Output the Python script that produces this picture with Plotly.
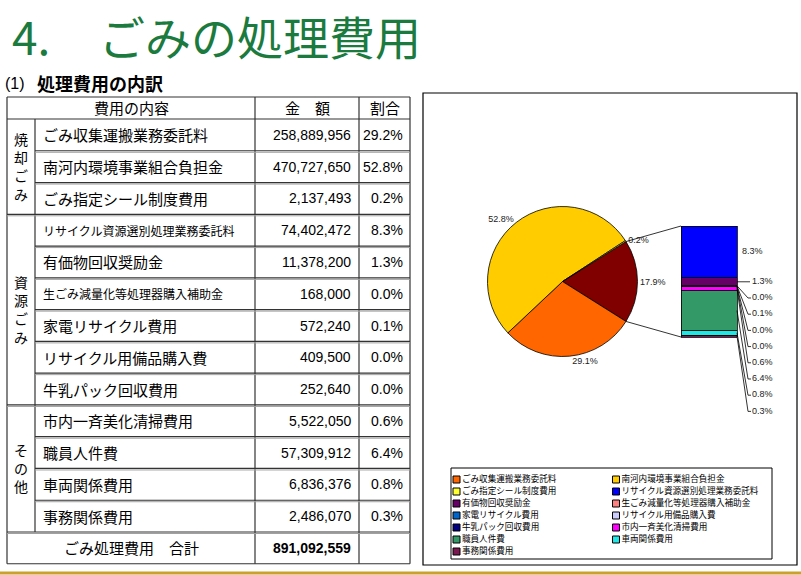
import math
import plotly.graph_objects as go

W, H = 801, 575

# ---------------- data ----------------
header_labels = ["費用の内容", "金　額", "割合"]
category_labels = ["焼却ごみ", "資源ごみ", "その他"]
item_names = [
    "ごみ収集運搬業務委託料", "南河内環境事業組合負担金", "ごみ指定シール制度費用",
    "リサイクル資源選別処理業務委託料", "有価物回収奨励金", "生ごみ減量化等処理器購入補助金",
    "家電リサイクル費用", "リサイクル用備品購入費", "牛乳パック回収費用",
    "市内一斉美化清掃費用", "職員人件費", "車両関係費用", "事務関係費用",
]
item_category = [0, 0, 0, 1, 1, 1, 1, 1, 1, 2, 2, 2, 2]
amounts = [258889956, 470727650, 2137493, 74402472, 11378200, 168000,
           572240, 409500, 252640, 5522050, 57309912, 6836376, 2486070]
table_ratios = ["29.2%", "52.8%", "0.2%", "8.3%", "1.3%", "0.0%", "0.1%",
                "0.0%", "0.0%", "0.6%", "6.4%", "0.8%", "0.3%"]
total_label = "ごみ処理費用　合計"
total_amount = 891092559
main_items = [0, 1, 2]
second_items = [3, 4, 5, 6, 7, 8, 9, 10, 11, 12]
other_label = "その他"

item_colors = ["#FF6600", "#FFCC00", "#FFFF33", "#0000FF", "#660066", "#FF8080",
               "#0066CC", "#CCCCFF", "#000080", "#FF00FF", "#339966", "#22E6E6", "#7A1A50"]
other_color = "#800000"
title_green = "#1B7A3E"

JP = "Noto Sans CJK JP"
LAT = "Liberation Sans"


def X(p):
    return p / W


def Y(p):
    return 1 - p / H


fig = go.Figure()
shapes = []
annotations = []

# ---------------- title ----------------
annotations.append(dict(text="4.", x=X(10), y=Y(35), xref="paper", yref="paper",
                        xanchor="left", yanchor="middle", showarrow=False,
                        font=dict(family=JP, size=46, color=title_green)))
annotations.append(dict(text="ごみの処理費用", x=X(97), y=Y(35), xref="paper", yref="paper",
                        xanchor="left", yanchor="middle", showarrow=False,
                        font=dict(family=JP, size=46, color=title_green)))
annotations.append(dict(text="(1)", x=X(3), y=Y(83), xref="paper", yref="paper",
                        xanchor="left", yanchor="middle", showarrow=False,
                        font=dict(family=LAT, size=16, color="black")))
annotations.append(dict(text="<b>処理費用の内訳</b>", x=X(35), y=Y(83), xref="paper", yref="paper",
                        xanchor="left", yanchor="middle", showarrow=False,
                        font=dict(family=JP, size=18, color="black")))

# ---------------- table ----------------
col_x = [7, 35, 255, 359, 410]
t_top, t_head = 97, 119
n = len(item_names)
row_h = (532 - t_head) / n
row_y = [t_head + i * row_h for i in range(n + 1)]
t_bottom = row_y[-1] + row_h
line_col = "#333333"


def hline(x0, x1, y, w=1.2, c=line_col):
    shapes.append(dict(type="line", xref="paper", yref="paper", x0=X(x0), x1=X(x1),
                       y0=Y(y), y1=Y(y), line=dict(color=c, width=w)))


def vline(x, y0, y1, w=1.2, c=line_col):
    shapes.append(dict(type="line", xref="paper", yref="paper", x0=X(x), x1=X(x),
                       y0=Y(y0), y1=Y(y1), line=dict(color=c, width=w)))


vline(col_x[0], t_top, t_bottom)
vline(col_x[4], t_top, t_bottom)
vline(col_x[2], t_top, t_bottom)
vline(col_x[3], t_top, t_bottom)
vline(col_x[1], t_head, row_y[-1])
hline(col_x[0], col_x[4], t_top)
hline(col_x[0], col_x[4], t_head)
hline(col_x[0], col_x[4], t_bottom)
for i in range(1, n + 1):
    full = (i == n) or (item_category[i] != item_category[i - 1])
    x0 = col_x[0] if full else col_x[1]
    hline(x0, col_x[4], row_y[i])
    hline(x0, col_x[4], row_y[i] + 1.5, w=1, c="#A0A0A0")

head_mid = (t_top + t_head) / 2
for lbl, xc in zip(header_labels, [(col_x[0] + col_x[2]) / 2, (col_x[2] + col_x[3]) / 2,
                                   (col_x[3] + col_x[4]) / 2]):
    annotations.append(dict(text=lbl, x=X(xc), y=Y(head_mid), xref="paper", yref="paper",
                            xanchor="center", yanchor="middle", showarrow=False,
                            font=dict(family=JP, size=15, color="black")))

for i, name in enumerate(item_names):
    yc = (row_y[i] + row_y[i + 1]) / 2
    fs = 12 if len(name) > 13 else 15
    annotations.append(dict(text=name, x=X(41), y=Y(yc), xref="paper", yref="paper",
                            xanchor="left", yanchor="middle", showarrow=False,
                            font=dict(family=JP, size=fs, color="black")))
    annotations.append(dict(text=f"{amounts[i]:,}", x=X(353), y=Y(yc), xref="paper", yref="paper",
                            xanchor="right", yanchor="middle", showarrow=False,
                            font=dict(family=LAT, size=14, color="black")))
    annotations.append(dict(text=table_ratios[i], x=X(405), y=Y(yc), xref="paper", yref="paper",
                            xanchor="right", yanchor="middle", showarrow=False,
                            font=dict(family=LAT, size=14, color="black")))

for c, lbl in enumerate(category_labels):
    idx = [i for i in range(n) if item_category[i] == c]
    yc = (row_y[idx[0]] + row_y[idx[-1] + 1]) / 2
    annotations.append(dict(text="<br>".join(list(lbl)), x=X(21), y=Y(yc), xref="paper", yref="paper",
                            xanchor="center", yanchor="middle", showarrow=False,
                            font=dict(family=JP, size=14, color="black")))

tot_mid = (row_y[-1] + t_bottom) / 2
annotations.append(dict(text=total_label, x=X((col_x[0] + col_x[2]) / 2), y=Y(tot_mid),
                        xref="paper", yref="paper", xanchor="center", yanchor="middle",
                        showarrow=False, font=dict(family=JP, size=15, color="black")))
annotations.append(dict(text=f"<b>{total_amount:,}</b>", x=X(353), y=Y(tot_mid),
                        xref="paper", yref="paper", xanchor="right", yanchor="middle",
                        showarrow=False, font=dict(family=LAT, size=14, color="black")))

# ---------------- chart frame ----------------
shapes.append(dict(type="rect", xref="paper", yref="paper", x0=X(423), x1=X(797), y0=Y(93), y1=Y(565),
                   line=dict(color="black", width=1.2)))
shapes.append(dict(type="line", xref="paper", yref="paper", x0=0, x1=1, y0=Y(573), y1=Y(573),
                   line=dict(color="#C9A22A", width=3)))

# ---------------- main pie ----------------
total = float(sum(amounts))
other_value = sum(amounts[i] for i in second_items)
pie_labels = [other_label] + [item_names[i] for i in main_items]
pie_values = [other_value] + [amounts[i] for i in main_items]
pie_colors = [other_color] + [item_colors[i] for i in main_items]
other_share = other_value / total
rotation = 90 - other_share * 180
pcx, pcy, pr = 562.5, 281.5, 75
fig.add_trace(go.Pie(
    labels=pie_labels, values=pie_values, sort=False, direction="clockwise", rotation=rotation,
    marker=dict(colors=pie_colors, line=dict(color="black", width=0.8)),
    textposition="outside", texttemplate="%{percent:.1%}",
    textfont=dict(family=LAT, size=9, color="#222222"),
    domain=dict(x=[X(pcx - pr), X(pcx + pr)], y=[Y(pcy + pr), Y(pcy - pr)]),
    showlegend=False, hoverinfo="label+percent",
))

# ---------------- secondary stacked bar ----------------
bar_l, bar_r, bar_b, bar_t = 681, 737, 337, 226
sec_pct = {i: amounts[i] / total * 100 for i in second_items}
stack_top = sum(sec_pct.values())
s = (bar_b - bar_t) / stack_top
dx0, dx1, dy0, dy1 = 600, 795, 215, 430
bw = bar_r - bar_l


def bx(p):
    return -0.5 + (p - bar_l) / bw


def by(p):
    return (bar_b - p) / s


bounds = {}
cum = 0.0
for i in reversed(second_items):
    fig.add_trace(go.Bar(x=[0], y=[sec_pct[i]], width=1, name=item_names[i],
                         marker=dict(color=item_colors[i], line=dict(color="black", width=0.8)),
                         showlegend=False, xaxis="x", yaxis="y", hoverinfo="name+y"))
    bounds[i] = (cum, cum + sec_pct[i])
    cum += sec_pct[i]

top_i = second_items[0]
mid_top = sum(bounds[top_i]) / 2
lx, ly, lt = [bx(742)], [mid_top], [f"{sec_pct[top_i]:.1f}%"]

lead_x, lead_y = [], []
first_mid = sum(bounds[second_items[1]]) / 2
y_first_px = bar_b - first_mid * s
for k, i in enumerate(second_items[1:]):
    mid = sum(bounds[i]) / 2
    lab_px = y_first_px + 16.2 * k
    if k == 0:
        lead_x += [0.5, bx(750), None]
        lead_y += [mid, by(lab_px), None]
    else:
        lead_x += [0.5, bx(748), bx(751), None]
        lead_y += [mid, by(lab_px), by(lab_px), None]
    lx.append(bx(752))
    ly.append(by(lab_px))
    lt.append(f"{sec_pct[i]:.1f}%")

fig.add_trace(go.Scatter(x=lead_x, y=lead_y, mode="lines", line=dict(color="black", width=0.8),
                         showlegend=False, hoverinfo="skip", xaxis="x", yaxis="y"))
fig.add_trace(go.Scatter(x=lx, y=ly, mode="text", text=lt, textposition="middle right",
                         textfont=dict(family=LAT, size=9, color="#222222"),
                         showlegend=False, hoverinfo="skip", xaxis="x", yaxis="y", cliponaxis=False))

half = other_share * math.pi
for sign, corner in [(1, bar_t), (-1, bar_b)]:
    ex = pcx + pr * math.cos(half)
    ey = pcy - sign * pr * math.sin(half)
    shapes.append(dict(type="line", xref="paper", yref="paper", x0=X(ex), y0=Y(ey),
                       x1=X(bar_l), y1=Y(corner), line=dict(color="black", width=0.8)))

# ---------------- legend (as scatter) ----------------
lg_l, lg_r, lg_t, lg_b = 451, 772, 468, 559
col_px = [456.5, 616]
row0_px, row_step = 479.5, 12
lg_x = [k % 2 for k in range(n)]
lg_y = [k // 2 for k in range(n)]
cw = col_px[1] - col_px[0]
shapes.append(dict(type="rect", xref="paper", yref="paper", x0=X(lg_l), x1=X(lg_r), y0=Y(lg_t), y1=Y(lg_b),
                   line=dict(color="black", width=1)))
fig.add_trace(go.Scatter(
    x=lg_x, y=lg_y, mode="markers+text", text=item_names, textposition="middle right",
    marker=dict(symbol="square", size=7, color=item_colors, line=dict(color="black", width=1)),
    textfont=dict(family=JP, size=8.6, color="black"),
    showlegend=False, hoverinfo="text", xaxis="x2", yaxis="y2", cliponaxis=False,
))

ax_off = dict(visible=False, showgrid=False, zeroline=False, fixedrange=True)
fig.update_layout(
    width=W, height=H, margin=dict(l=0, r=0, t=0, b=0),
    paper_bgcolor="white", plot_bgcolor="rgba(0,0,0,0)",
    barmode="stack", showlegend=False,
    xaxis=dict(domain=[X(dx0), X(dx1)], range=[bx(dx0), bx(dx1)], **ax_off),
    yaxis=dict(domain=[Y(dy1), Y(dy0)], range=[by(dy1), by(dy0)], **ax_off),
    xaxis2=dict(domain=[X(lg_l), X(lg_r)],
                range=[(lg_l - col_px[0]) / cw, (lg_r - col_px[0]) / cw], **ax_off),
    yaxis2=dict(domain=[Y(lg_b), Y(lg_t)],
                range=[(lg_b - row0_px) / row_step, (lg_t - row0_px) / row_step], **ax_off),
    shapes=shapes, annotations=annotations,
)

fig.write_html("out.html", config={"displayModeBar": False},
               post_script="document.body.style.margin='0';document.body.style.overflow='hidden';")
